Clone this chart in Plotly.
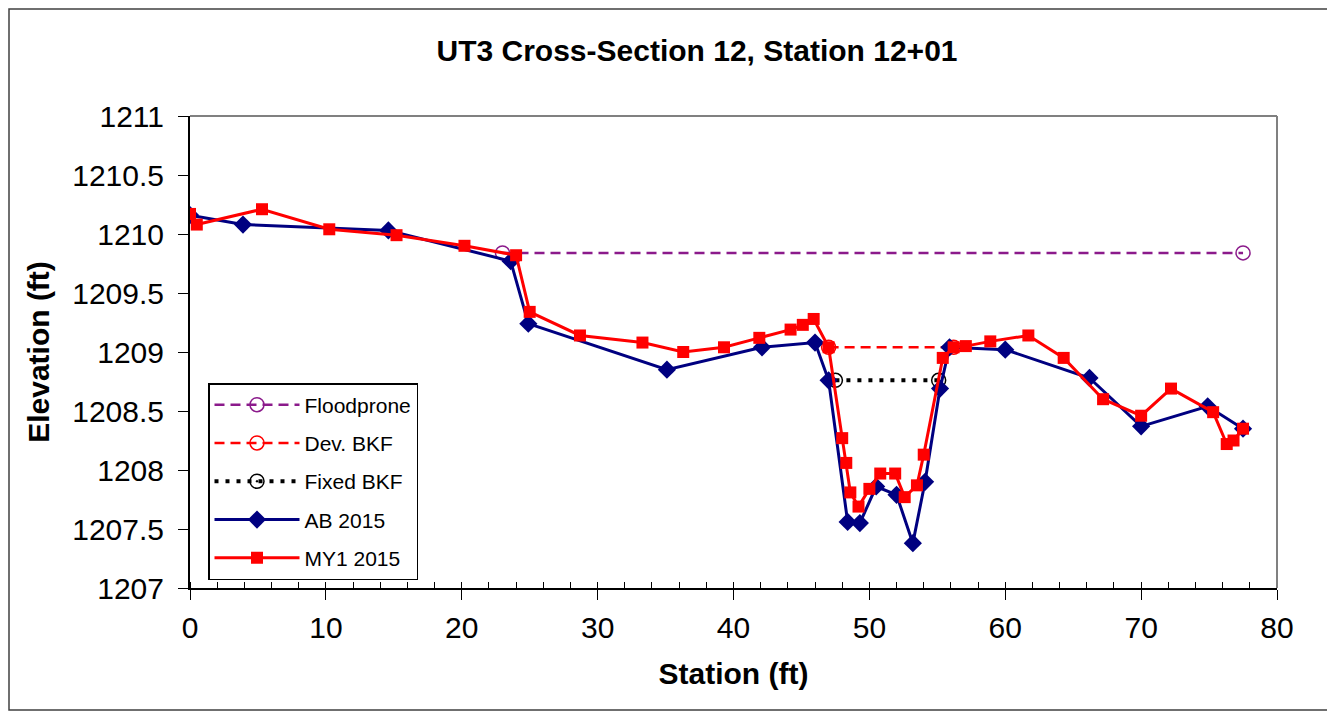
import plotly.graph_objects as go

# ---- data ----
flood_x = [23.0, 77.5]
flood_y = [1209.84, 1209.84]

devbkf_x = [47.0, 56.2]
devbkf_y = [1209.04, 1209.04]

fixbkf_x = [47.5, 55.1]
fixbkf_y = [1208.76, 1208.76]

ab_x = [0.0, 3.9, 14.6, 23.6, 24.9, 35.1, 42.1, 46.0, 47.0, 48.4, 49.3, 50.5,
        52.0, 53.2, 54.1, 55.2, 55.9, 60.0, 66.2, 70.0, 74.9, 77.5]
ab_y = [1210.16, 1210.08, 1210.03, 1209.77, 1209.24, 1208.85, 1209.04, 1209.08,
        1208.76, 1207.56, 1207.55, 1207.86, 1207.79, 1207.38, 1207.90, 1208.69,
        1209.04, 1209.02, 1208.78, 1208.37, 1208.54, 1208.35]

my1_x = [0.0, 0.5, 5.3, 10.25, 15.2, 20.2, 24.0, 25.0, 28.7, 33.3, 36.3, 39.3,
         41.9, 44.2, 45.1, 45.9, 47.0, 48.0, 48.3, 48.6, 49.2, 50.0, 50.8, 51.9,
         52.6, 53.5, 54.0, 55.4, 56.2, 57.1, 58.9, 61.7, 64.3, 67.2, 70.0, 72.2,
         75.3, 76.3, 76.8, 77.5]
my1_y = [1210.17, 1210.08, 1210.21, 1210.04, 1209.99, 1209.90, 1209.82, 1209.34,
         1209.14, 1209.08, 1209.00, 1209.04, 1209.12, 1209.19, 1209.23, 1209.28,
         1209.04, 1208.27, 1208.06, 1207.81, 1207.69, 1207.84, 1207.97, 1207.97,
         1207.77, 1207.87, 1208.13, 1208.95, 1209.04, 1209.05, 1209.09, 1209.14,
         1208.95, 1208.60, 1208.46, 1208.69, 1208.49, 1208.22, 1208.25, 1208.35]

x_ticks = [0, 10, 20, 30, 40, 50, 60, 70, 80]
y_ticks = [1207, 1207.5, 1208, 1208.5, 1209, 1209.5, 1210, 1210.5, 1211]
y_tick_labels = ["1207", "1207.5", "1208", "1208.5", "1209", "1209.5", "1210", "1210.5", "1211"]

FONT = "Liberation Sans, Arial, sans-serif"

# page offset of the figure inside the html body (default body margin)
OFF = 8
W, H = 1335, 713
# target plot-area pixel positions on screen
SL, SR, ST, SB = 190, 1277, 116, 588
L, R, T, B = SL - OFF, SR - OFF, ST - OFF, SB - OFF


def px(xs):
    return (xs - SL) / (SR - SL)


def py(ys):
    return (SB - ys) / (SB - ST)


fig = go.Figure()
fig.add_trace(go.Scatter(x=flood_x, y=flood_y, name="Floodprone", mode="lines+markers",
                         line=dict(color="#8B1A8B", width=2.5, dash="10px,6px"),
                         marker=dict(symbol="circle-open", size=14, color="#8B1A8B", line=dict(width=1.5)),
                         legendgroup="a"))
fig.add_trace(go.Scatter(x=devbkf_x, y=devbkf_y, name="Dev. BKF", mode="lines+markers",
                         line=dict(color="#FF0000", width=2.5, dash="10px,6px"),
                         marker=dict(symbol="circle-open", size=14, color="#FF0000", line=dict(width=1.5)),
                         legendgroup="b"))
fig.add_trace(go.Scatter(x=fixbkf_x, y=fixbkf_y, name="Fixed BKF", mode="lines+markers",
                         line=dict(color="#000000", width=4, dash="4px,7px"),
                         marker=dict(symbol="circle-open-dot", size=14, color="#000000", line=dict(width=1.5)),
                         legendgroup="c"))
fig.add_trace(go.Scatter(x=ab_x, y=ab_y, name="AB 2015", mode="lines+markers",
                         line=dict(color="#000080", width=3),
                         marker=dict(symbol="diamond", size=14, color="#000080"),
                         legendgroup="d"))
fig.add_trace(go.Scatter(x=my1_x, y=my1_y, name="MY1 2015", mode="lines+markers",
                         line=dict(color="#FF0000", width=3),
                         marker=dict(symbol="square", size=12, color="#FF0000"),
                         legendgroup="e"))

# plot frame (top/right grey)
fig.add_shape(type="line", xref="paper", yref="paper", x0=0, x1=1, y0=1, y1=1,
              line=dict(color="#808080", width=2))
fig.add_shape(type="line", xref="paper", yref="paper", x0=1, x1=1, y0=0, y1=1,
              line=dict(color="#808080", width=2))
# outer chart border
fig.add_shape(type="rect", xref="paper", yref="paper",
              x0=px(OFF + 1), x1=px(1330), y0=py(710), y1=py(OFF + 1),
              line=dict(color="#404040", width=1.5), layer="below")

fig.update_layout(
    width=W, height=H,
    margin=dict(l=L, r=W - R, t=T, b=H - B),
    paper_bgcolor="white", plot_bgcolor="white",
    font=dict(family=FONT, color="black"),
    title=dict(text="<b>UT3 Cross-Section 12, Station 12+01</b>", x=px(697), xref="paper",
               xanchor="center", y=1 - (50 - OFF) / H, yanchor="middle",
               font=dict(size=30, family=FONT, color="black")),
    showlegend=True,
    legend=dict(x=px(208), y=py(383), xanchor="left", yanchor="top",
                bordercolor="black", borderwidth=1.5, bgcolor="white",
                font=dict(size=21, family=FONT), tracegroupgap=8,
                itemwidth=85),
    xaxis=dict(range=[0, 80], tickvals=x_ticks, ticks="outside", ticklen=10,
               tickcolor="black", tickwidth=1, showline=True, linecolor="black",
               linewidth=2, showgrid=False, zeroline=False,
               tickfont=dict(size=30, family=FONT), ticklabelstandoff=2,
               title=dict(text="<b>Station (ft)</b>", font=dict(size=30, family=FONT), standoff=20),
               minor=dict(ticks="inside", ticklen=6, tickcolor="black", dtick=2, showgrid=False)),
    yaxis=dict(range=[1207, 1211], tickvals=y_ticks, ticktext=y_tick_labels, ticks="outside",
               ticklen=10, tickcolor="black", tickwidth=1, showline=True, linecolor="black",
               linewidth=2, showgrid=False, zeroline=False,
               tickfont=dict(size=30, family=FONT), ticklabelstandoff=8,
               title=dict(text="<b>Elevation (ft)</b>", font=dict(size=30, family=FONT), standoff=14)),
)

fig.write_html("out.html")
